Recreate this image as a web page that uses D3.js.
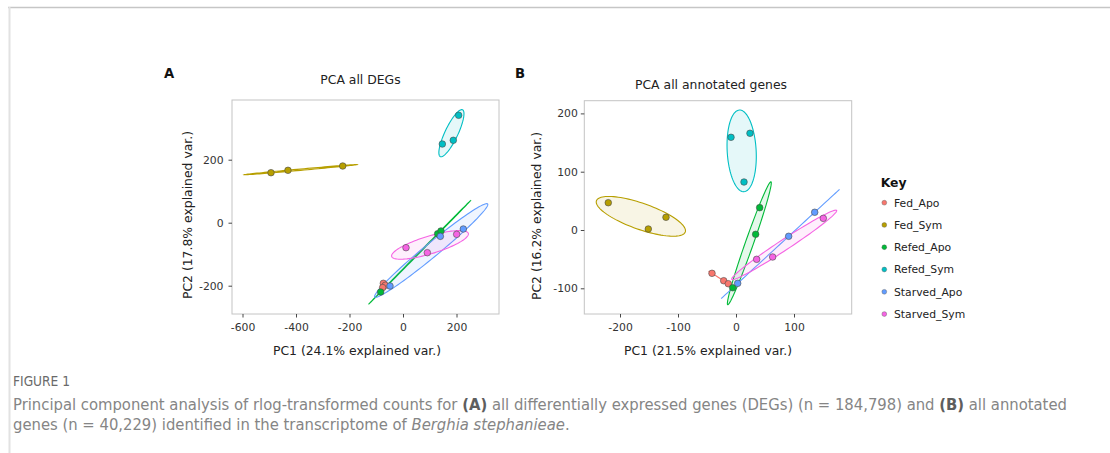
<!DOCTYPE html>
<html><head><meta charset="utf-8">
<script src="https://cdn.jsdelivr.net/npm/d3@7/dist/d3.min.js"></script>
<style>body{margin:0;background:#fff}svg{display:block}</style>
</head><body><svg id="c" width="1110" height="453"></svg>
<script>
// ---------- data ----------
const groups = ["Fed_Apo","Fed_Sym","Refed_Apo","Refed_Sym","Starved_Apo","Starved_Sym"];
const groupColors = ["#F8766D","#B79F00","#00BA38","#00BFC4","#619CFF","#F564E3"];

const sampleGroups = ["Fed_Apo","Fed_Apo","Fed_Apo","Fed_Sym","Fed_Sym","Fed_Sym",
  "Refed_Apo","Refed_Apo","Refed_Apo","Refed_Sym","Refed_Sym","Refed_Sym",
  "Starved_Apo","Starved_Apo","Starved_Apo","Starved_Sym","Starved_Sym","Starved_Sym"];

// Panel A: PCA all DEGs
const pcaA_pc1 = [-73.5,-66,-76, -493.5,-430,-225.4, -83.5,129.6,142, 147,188,208, -48.6,139.6,225.5, 11.2,91,200.7];
const pcaA_pc2 = [-192.4,-198.7,-206, 158.7,166.3,180, -220,-35,-26.3, 249.8,261.6,341, -201,-43.3,-20, -79.3,-95.2,-36.9];
const ticksA_x = [-600,-400,-200,0,200];
const ticksA_y = [-200,0,200];

// Panel B: PCA all annotated genes
const pcaB_pc1 = [-41.4,-21.2,-13.3, -220.2,-151.2,-120.7, 40.8,33.9,-5.7, -8.6,24.1,13.8, 2.9,90.8,135.7, 35.6,63.2,150.5];
const pcaB_pc2 = [-74.3,-87,-92.1, 46.8,1.7,21.8, 38.3,-7.4,-99, 159,165.9,82.3, -91.5,-10.8,30.4, -50.3,-46.3,20];
const ticksB_x = [-200,-100,0,100];
const ticksB_y = [-100,0,100,200];

const chi2_68 = 2.2788;   // qchisq(0.68, 2) -> ellipse probability 0.68

// ---------- drawing ----------
const svg = d3.select("#c");
const color = d3.scaleOrdinal().domain(groups).range(groupColors);
const FONT = "'DejaVu Sans', sans-serif";

// page frame lines
svg.append("line").attr("x1",8).attr("x2",1110).attr("y1",7.5).attr("y2",7.5).attr("stroke","#c6c6c6").attr("stroke-width",1.5);
svg.append("line").attr("x1",9.5).attr("x2",9.5).attr("y1",7).attr("y2",453).attr("stroke","#e2e2e2").attr("stroke-width",2);

function ellipsePoints(xs, ys){
  const n = xs.length;
  const mx = d3.mean(xs), my = d3.mean(ys);
  let sxx=0, syy=0, sxy=0;
  for(let i=0;i<n;i++){ const dx=xs[i]-mx, dy=ys[i]-my; sxx+=dx*dx; syy+=dy*dy; sxy+=dx*dy; }
  sxx/=(n-1); syy/=(n-1); sxy/=(n-1);
  const tr = sxx+syy, det = sxx*syy - sxy*sxy;
  const disc = Math.sqrt(Math.max(0, tr*tr/4 - det));
  const l1 = tr/2 + disc, l2 = Math.max(0, tr/2 - disc);
  let v1x = sxy, v1y = l1 - sxx;
  if (Math.abs(v1x) < 1e-9 && Math.abs(v1y) < 1e-9){ v1x = 1; v1y = 0; }
  const nrm = Math.hypot(v1x, v1y); v1x/=nrm; v1y/=nrm;
  const v2x = -v1y, v2y = v1x;
  const ed = Math.sqrt(chi2_68);
  const a = ed*Math.sqrt(l1), b = ed*Math.sqrt(l2);
  const pts = [];
  for(let k=0;k<100;k++){
    const t = -Math.PI + 2*Math.PI*k/100;
    const c = Math.cos(t), s = Math.sin(t);
    pts.push([mx + a*c*v1x + b*s*v2x, my + a*c*v1y + b*s*v2y]);
  }
  return pts;
}

function panel(o){
  const g = svg.append("g");
  const x = d3.scaleLinear().domain(o.xDomain).range([o.left, o.right]);
  const y = d3.scaleLinear().domain(o.yDomain).range([o.bottom, o.top]);

  g.append("rect").attr("x",o.left).attr("y",o.top).attr("width",o.right-o.left).attr("height",o.bottom-o.top)
    .attr("fill","none").attr("stroke","#c4c4c4").attr("stroke-width",1);

  const fmt = d => String(d);
  const ax = g.append("g").attr("transform",`translate(0,${o.bottom})`)
    .call(d3.axisBottom(x).tickValues(o.xTicks).tickSize(3.5).tickPadding(6).tickFormat(fmt));
  const ay = g.append("g").attr("transform",`translate(${o.left},0)`)
    .call(d3.axisLeft(y).tickValues(o.yTicks).tickSize(3.5).tickPadding(o.yPad).tickFormat(fmt));
  [ax,ay].forEach(a=>{
    a.select(".domain").remove();
    a.selectAll(".tick line").attr("stroke","#333").attr("stroke-width",0.9);
    a.selectAll(".tick text").attr("fill","#333").attr("font-size",10.8).attr("font-family",FONT);
  });

  const line = d3.line().x(d=>x(d[0])).y(d=>y(d[1])).curve(d3.curveLinearClosed);
  groups.forEach(gr=>{
    const idx = sampleGroups.map((s,i)=>s===gr?i:-1).filter(i=>i>=0);
    if (idx.length < 3) return;
    const pts = ellipsePoints(idx.map(i=>o.pc1[i]), idx.map(i=>o.pc2[i]));
    g.append("path").attr("d",line(pts)).attr("fill",color(gr)).attr("fill-opacity",0.1)
      .attr("stroke",color(gr)).attr("stroke-width",1.1);
  });

  g.selectAll("circle.pt").data(o.pc1.map((v,i)=>({x:v,y:o.pc2[i],g:sampleGroups[i]})))
    .join("circle").attr("class","pt")
    .attr("cx",d=>x(d.x)).attr("cy",d=>y(d.y)).attr("r",3.3)
    .attr("fill",d=>color(d.g)).attr("stroke","#4a4a4a").attr("stroke-width",0.6);

  g.append("text").attr("x",o.titleX).attr("y",o.titleY).attr("text-anchor","middle")
    .attr("font-family",FONT).attr("font-size",12.4).attr("fill","#222").text(o.title);
  g.append("text").attr("x",o.letterX).attr("y",78).attr("font-family",FONT).attr("font-weight","bold")
    .attr("font-size",13.2).attr("fill","#111").text(o.letter);
  g.append("text").attr("x",o.xlabX).attr("y",355).attr("text-anchor","middle")
    .attr("font-family",FONT).attr("font-size",12.4).attr("fill","#222").text(o.xlab);
  g.append("text").attr("transform",`translate(${o.ylabX},${o.ylabY}) rotate(-90)`).attr("dy","0.35em")
    .attr("text-anchor","middle").attr("font-family",FONT).attr("font-size",12.4).attr("fill","#222").text(o.ylab);
}

panel({left:232,right:499,top:100,bottom:314,
  xDomain:[(232-403)/0.2675,(499-403)/0.2675], yDomain:[(222.7-314)/0.315,(222.7-100)/0.315],
  xTicks:ticksA_x, yTicks:ticksA_y, yPad:5, pc1:pcaA_pc1, pc2:pcaA_pc2,
  title:"PCA all DEGs", titleX:360.5, titleY:84, letter:"A", letterX:164,
  xlab:"PC1 (24.1% explained var.)", xlabX:357, ylab:"PC2 (17.8% explained var.)", ylabX:187.5, ylabY:215});

panel({left:584.3,right:851.7,top:100.7,bottom:314,
  xDomain:[(584.3-736)/0.58,(851.7-736)/0.58], yDomain:[(230-314)/0.583,(230-100.7)/0.583],
  xTicks:ticksB_x, yTicks:ticksB_y, yPad:3, pc1:pcaB_pc1, pc2:pcaB_pc2,
  title:"PCA all annotated genes", titleX:711, titleY:88.5, letter:"B", letterX:515,
  xlab:"PC1 (21.5% explained var.)", xlabX:708, ylab:"PC2 (16.2% explained var.)", ylabX:537, ylabY:216});

// legend
const lg = svg.append("g");
lg.append("text").attr("x",880.7).attr("y",187).attr("font-family",FONT).attr("font-weight","bold")
  .attr("font-size",12.4).attr("fill","#111").text("Key");
groups.forEach((gr,i)=>{
  const cy = 202.7 + i*22.27;
  lg.append("circle").attr("cx",884.3).attr("cy",cy).attr("r",2.4).attr("fill",color(gr))
    .attr("stroke","#555").attr("stroke-width",0.4);
  lg.append("text").attr("x",894).attr("y",cy).attr("dy","0.36em").attr("font-family",FONT)
    .attr("font-size",10.8).attr("fill","#222").text(gr);
});

// caption
const CF = "'Liberation Sans Narrow','DejaVu Sans Condensed','Arial Narrow',sans-serif";
const fig = svg.append("text").attr("x",13).attr("y",386).attr("font-family",CF).attr("font-size",12)
  .attr("fill","#6a6a6a").text("FIGURE 1");
const fw = fig.node().getComputedTextLength();
fig.attr("font-size", 12*57/fw);
const cap1 = svg.append("text").attr("x",13).attr("y",409.5).attr("font-family",CF).attr("fill","#858585");
[["Principal component analysis of rlog-transformed counts for ",0],["(A)",1],[" all differentially expressed genes (DEGs) (n = 184,798) and ",0],["(B)",1],[" all annotated",0]]
  .forEach(([t,b])=>cap1.append("tspan").attr("font-weight",b?"bold":null).attr("fill",b?"#5e5e5e":null).text(t));
const cap2 = svg.append("text").attr("x",13).attr("y",429.5).attr("font-family",CF).attr("fill","#858585");
[["genes (n = 40,229) identified in the transcriptome of ",0],["Berghia stephanieae",2],[".",0]]
  .forEach(([t,s])=>cap2.append("tspan").attr("font-style",s===2?"italic":null).text(t));
cap1.attr("font-size",16); cap2.attr("font-size",16);
const w = cap1.node().getComputedTextLength();
const fs = 16*1054/w;
cap1.attr("font-size",fs); cap2.attr("font-size",fs);
</script></body></html>
